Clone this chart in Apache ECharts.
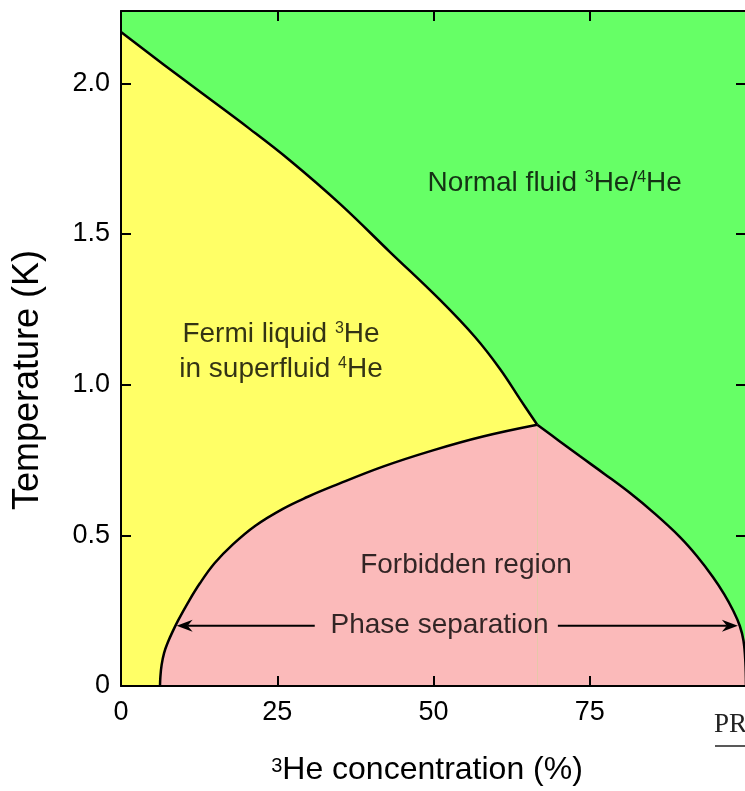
<!DOCTYPE html>
<html>
<head>
<meta charset="utf-8">
<script src="https://cdn.jsdelivr.net/npm/echarts@6/dist/echarts.min.js"></script>
<style>
  html, body { margin: 0; padding: 0; background: #ffffff; }
  #chart { width: 745px; height: 791px; }
</style>
</head>
<body>
<div id="chart"></div>
<script>
// Lambda line: superfluid transition temperature vs 3He concentration
const lambdaX = [0, 10.24, 20.64, 27.04, 35.04, 43.04, 51.04, 56.64, 60.64, 63.84, 66.6];
const lambdaT = [2.17, 2.009, 1.848, 1.744, 1.60, 1.44, 1.281, 1.158, 1.052, 0.952, 0.867];

// Phase-separation curve, 3He-poor branch (ends at the tricritical point)
const diluteX = [6.24, 6.3, 6.5, 6.9, 7.5, 8.2, 9.1, 10.7, 12.6, 15.0, 17.9, 21.5, 25.9, 29.9, 33.9, 41.9, 49.9, 57.9, 66.6];
const diluteT = [0, 0.03, 0.07, 0.11, 0.145, 0.178, 0.216, 0.276, 0.34, 0.408, 0.47, 0.532, 0.588, 0.628, 0.663, 0.728, 0.782, 0.828, 0.867];

// Phase-separation curve, 3He-rich branch
const richX = [66.6, 70, 73.4, 77.4, 81.4, 85.4, 89.4, 92.2, 94.7, 96.5, 97.9, 99.0, 99.6, 99.9, 100];
const richT = [0.867, 0.815, 0.763, 0.703, 0.641, 0.572, 0.495, 0.43, 0.362, 0.305, 0.252, 0.20, 0.15, 0.08, 0];

// Axis ranges and ticks
const xMin = 0, xMax = 100, xStep = 25;
const yMin = 0, yMax = 2.24, yStep = 0.5;

// "Phase separation" double arrow (tail -> head, at one temperature)
const arrowTail = [31, 69.9];
const arrowHead = [8.9, 98.7];
const arrowT = 0.2;

// Region names and where they sit (concentration %, temperature K)
const regionText = [
  'Normal fluid {sup|3}He/{sup|4}He',
  'Fermi liquid {sup|3}He\nin superfluid {sup|4}He',
  'Forbidden region',
  'Phase separation'
];
const regionX = [69.4, 25.6, 55.2, 50.96];
const regionT = [1.668, 1.11, 0.40, 0.20];

const FONT = "'Liberation Sans', Arial, Helvetica, sans-serif";
const GREEN = '#66ff66', YELLOW = '#ffff66', PINK = '#fbbaba';

const pairs = (xs, ys) => xs.map((x, i) => [x, ys[i]]);

const supStyle = { fontSize: 16, height: 24, verticalAlign: 'top', color: '#000', fontFamily: FONT };

function renderArrow(params, api) {
  const t = api.value(2);
  const tail = api.coord([api.value(0), t]);
  const head = api.coord([api.value(1), t]);
  const dx = head[0] - tail[0], dy = head[1] - tail[1];
  const len = Math.hypot(dx, dy);
  const ux = dx / len, uy = dy / len, px = -uy, py = ux;
  const L = 16, W = 6, N = 11;
  return {
    type: 'group',
    children: [
      { type: 'line',
        shape: { x1: tail[0], y1: tail[1], x2: head[0] - ux * N, y2: head[1] - uy * N },
        style: { stroke: '#000', lineWidth: 2 } },
      { type: 'polygon',
        shape: { points: [
          [head[0], head[1]],
          [head[0] - ux * L + px * W, head[1] - uy * L + py * W],
          [head[0] - ux * N, head[1] - uy * N],
          [head[0] - ux * L - px * W, head[1] - uy * L - py * W]
        ] },
        style: { fill: '#000' } }
    ]
  };
}

const axisLineStyle = { color: '#000', width: 2 };
const tickStyle = { show: true, inside: true, length: 10, lineStyle: { color: '#000', width: 2 } };

const chart = echarts.init(document.getElementById('chart'), null, { renderer: 'canvas' });
chart.setOption({
  animation: false,
  backgroundColor: '#ffffff',
  grid: {
    left: 121, top: 11, width: 625, height: 675,
    show: true, backgroundColor: GREEN, borderWidth: 0,
    containLabel: false, outerBoundsMode: 'none'
  },
  xAxis: [
    {
      type: 'value', position: 'bottom', min: xMin, max: xMax, interval: xStep, z: 10,
      axisLine: { show: true, onZero: false, lineStyle: axisLineStyle },
      axisTick: tickStyle,
      splitLine: { show: false },
      axisLabel: {
        margin: 13, fontSize: 27, color: '#000', fontFamily: FONT,
        formatter: v => (v < xMax ? String(v) : '')
      }
    },
    {
      type: 'value', position: 'top', min: xMin, max: xMax, interval: xStep, z: 10,
      axisLine: { show: true, onZero: false, lineStyle: axisLineStyle },
      axisTick: tickStyle,
      splitLine: { show: false },
      axisLabel: { show: false }
    }
  ],
  yAxis: [
    {
      type: 'value', position: 'left', min: yMin, max: yMax, interval: yStep, z: 10,
      axisLine: { show: true, onZero: false, lineStyle: axisLineStyle },
      axisTick: tickStyle,
      splitLine: { show: false },
      axisLabel: {
        margin: 11, fontSize: 27, color: '#000', fontFamily: FONT,
        formatter: v => {
          const k = Math.round(v / yStep);
          if (Math.abs(v - k * yStep) > 1e-6) return '';
          return v === 0 ? '0' : v.toFixed(1);
        }
      }
    },
    {
      type: 'value', position: 'right', min: yMin, max: yMax, interval: yStep, z: 10,
      axisLine: { show: true, onZero: false, lineStyle: axisLineStyle },
      axisTick: tickStyle,
      splitLine: { show: false },
      axisLabel: { show: false }
    }
  ],
  series: [
    {
      name: 'Lambda line', type: 'line', z: 2,
      data: pairs(lambdaX, lambdaT),
      showSymbol: false, smooth: 0.4,
      lineStyle: { color: '#000', width: 2.5 },
      areaStyle: { color: YELLOW, opacity: 1 }
    },
    {
      name: '3He-poor branch', type: 'line', z: 3,
      data: pairs(diluteX, diluteT),
      showSymbol: false, smooth: 0.4,
      lineStyle: { color: '#000', width: 2.5 },
      areaStyle: { color: PINK, opacity: 1 }
    },
    {
      name: '3He-rich branch', type: 'line', z: 3,
      data: pairs(richX, richT),
      showSymbol: false, smooth: 0.4,
      lineStyle: { color: '#000', width: 2.5 },
      areaStyle: { color: PINK, opacity: 1 }
    },
    {
      name: 'Phase separation arrows', type: 'custom', z: 4,
      renderItem: renderArrow,
      data: arrowTail.map((x, i) => [x, arrowHead[i], arrowT]),
      silent: true
    },
    {
      name: 'Region names', type: 'scatter', z: 5,
      symbolSize: 0, silent: true,
      data: regionText.map((t, i) => ({ value: [regionX[i], regionT[i]], name: t })),
      label: {
        show: true, position: 'inside',
        formatter: p => p.name,
        fontSize: 28, lineHeight: 35, color: '#000', fontFamily: FONT, align: 'center',
        rich: { sup: supStyle }
      }
    }
  ],
  graphic: [
    {
      type: 'text', x: 427, y: 770, z: 20,
      style: {
        text: '{sup|3}He concentration (%)',
        fontSize: 32, fontFamily: FONT, fill: '#000',
        align: 'center', verticalAlign: 'middle', lineHeight: 36,
        rich: { sup: { fontSize: 20, height: 28, verticalAlign: 'top', fill: '#000', fontFamily: FONT } }
      }
    },
    {
      type: 'text', x: 28, y: 380, rotation: Math.PI / 2, z: 20,
      style: {
        text: 'Temperature (K)',
        fontSize: 36, fontFamily: FONT, fill: '#000',
        align: 'center', verticalAlign: 'middle'
      }
    },
    {
      type: 'text', x: 714, y: 711, z: 20,
      style: { text: 'PR', fontSize: 27, fontFamily: "'Liberation Serif', 'DejaVu Serif', serif", fill: '#222' }
    },
    {
      type: 'line', z: 20,
      shape: { x1: 715, y1: 746, x2: 745, y2: 746 },
      style: { stroke: '#222', lineWidth: 1.5 }
    }
  ]
});
</script>
</body>
</html>
